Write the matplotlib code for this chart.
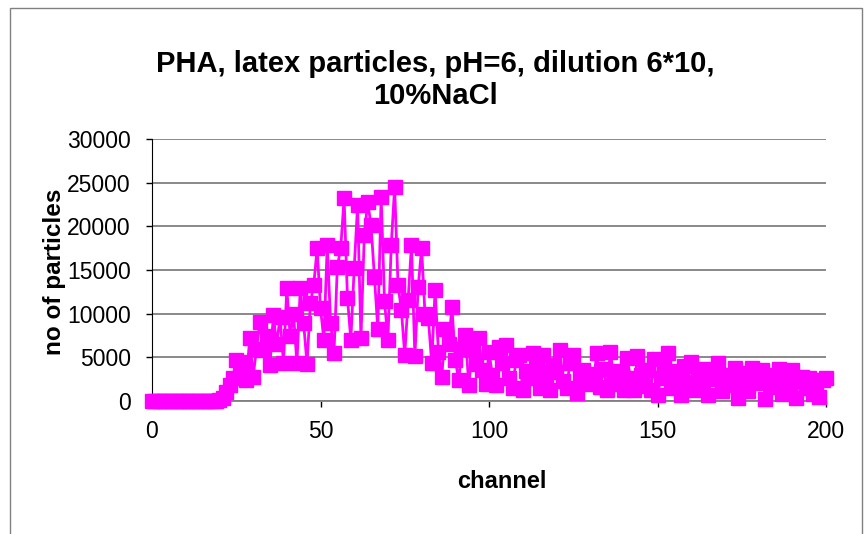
import matplotlib
matplotlib.use("Agg")
import matplotlib.pyplot as plt
from matplotlib.patches import Rectangle

# PHA spectrum, counts per channel
channel = list(range(0, 201))
counts = [
    # 0-19
    0, 0, 0, 0, 0, 0, 0, 0, 0, 0,
    0, 0, 0, 0, 0, 0, 0, 0, 0, 0,
    # 20-39
    100, 400, 1000, 1800, 2600, 4700, 3000, 4500, 2400, 7200,
    2800, 6000, 9100, 5800, 7400, 4100, 9800, 6500, 9600, 4400,
    # 40-59
    12900, 7400, 10000, 4300, 12900, 8900, 4200, 11200, 13300, 17500,
    10600, 7000, 17900, 8900, 5450, 15400, 17500, 23200, 11800, 7000,
    # 60-79
    15200, 22400, 7200, 19000, 22800, 20100, 14200, 8300, 23400, 11400,
    7000, 17900, 24500, 13300, 10400, 5300, 11600, 17900, 5100, 13100,
    # 80-99
    17500, 10000, 9500, 4300, 12700, 5600, 2800, 8300, 6500, 10800,
    4700, 2400, 6000, 7600, 1800, 5800, 4200, 7200, 3600, 2000,
    # 100-119
    5600, 3000, 1800, 6200, 4400, 6400, 2600, 1450, 4700, 5300,
    1250, 3400, 2600, 5450, 3800, 1450, 5300, 2900, 1250, 4100,
    # 120-139
    3300, 5850, 2300, 1450, 4300, 5300, 900, 2600, 3500, 1900,
    3100, 2400, 5450, 1600, 3700, 1250, 5650, 2800, 1900, 3400,
    # 140-159
    1250, 4900, 2600, 1250, 5100, 3000, 1700, 3600, 1250, 4800,
    700, 2600, 3900, 5450, 1500, 2800, 3400, 700, 4000, 2200,
    # 160-179
    4500, 1300, 3300, 2000, 3700, 700, 2500, 3100, 4300, 1100,
    2400, 3000, 1800, 3800, 300, 2700, 3200, 1200, 3800, 2100,
    # 180-200
    2900, 3600, 200, 2400, 1600, 3000, 3650, 800, 2500, 1900,
    3500, 300, 2300, 2800, 1500, 2600, 800, 2200, 450, 2400,
    2600,
]

plt.rcParams['font.family'] = ['Liberation Sans', 'DejaVu Sans']

fig = plt.figure(figsize=(8.65, 5.34), dpi=100)
ax = fig.add_axes([152 / 865, 1 - 401 / 534, 674 / 865, 262 / 534])

# chart area border
fig.patches.append(Rectangle((10 / 865, -0.1), 852 / 865, 1.1 - 8 / 534,
                             transform=fig.transFigure, fill=False,
                             edgecolor='#808080', lw=1))

ax.plot(channel, counts, color='#FF00FF', lw=2, marker='s', ms=10,
        mec='#FF00FF', mfc='#FF00FF', clip_on=False, zorder=3)

ax.set_xlim(0, 200)
ax.set_ylim(0, 30000)
ax.set_xticks([0, 50, 100, 150, 200])
ax.set_yticks(range(0, 30001, 5000))
ax.yaxis.grid(True, color='#808080', lw=1.3)
ax.set_axisbelow(True)

for s in ['top', 'right']:
    ax.spines[s].set_visible(False)
ax.spines['left'].set_color('black')
ax.spines['bottom'].set_color('#808080')
ax.spines['bottom'].set_linewidth(1.3)
ax.tick_params(direction='out', length=4.3, width=1, labelsize=16.5)
ax.tick_params(axis='y', pad=11)
ax.tick_params(axis='x', pad=9.5)

fig.text(0.503, 1 - 80 / 534, 'PHA, latex particles, pH=6, dilution 6*10,\n10%NaCl',
         ha='center', va='center', fontsize=21, fontweight='bold', linespacing=1.2)
fig.text(502 / 865, 1 - 482 / 534, 'channel', ha='center', va='center',
         fontsize=17, fontweight='bold')
fig.text(55 / 865, 1 - 272 / 534, 'no of particles', ha='center', va='center',
         rotation=90, fontsize=17.5, fontweight='bold')

fig.savefig('out.png', dpi=100)
